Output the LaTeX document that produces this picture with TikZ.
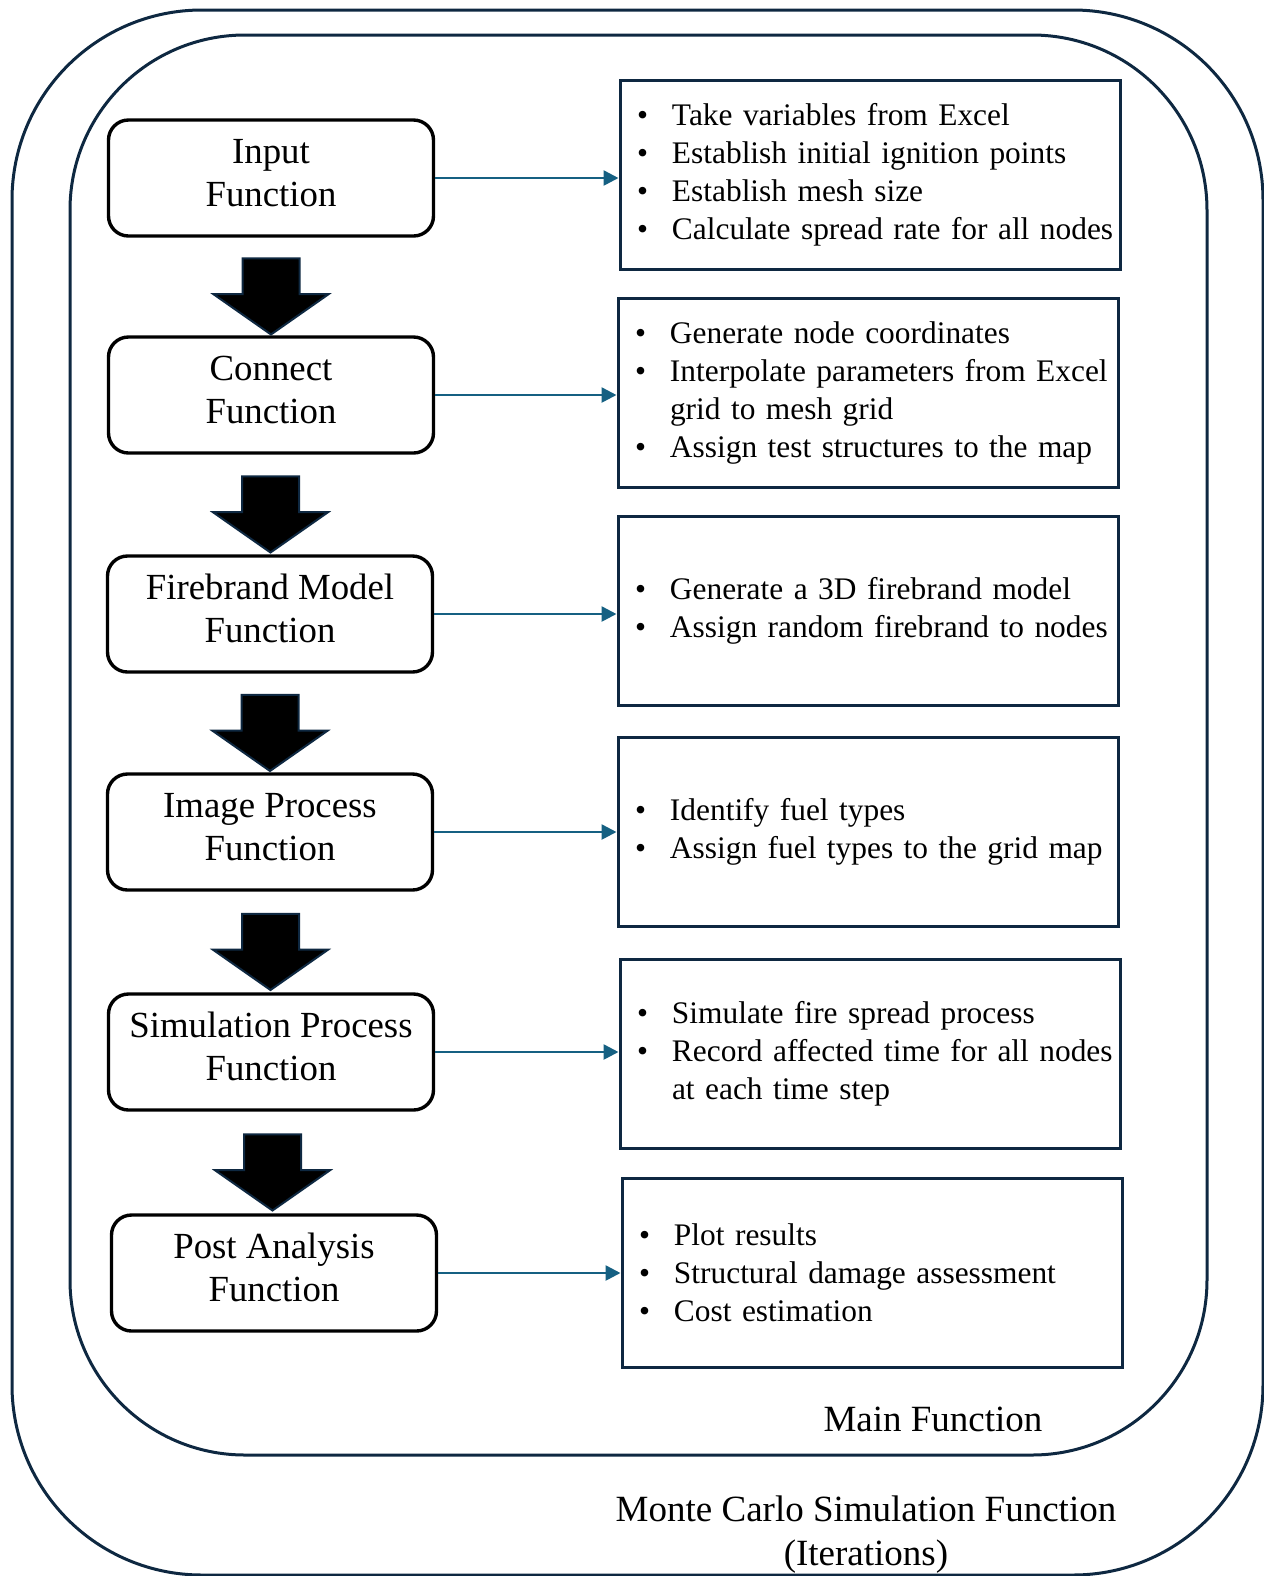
\documentclass[tikz,border=0pt]{standalone}
\usepackage{fontspec}
\setmainfont{Liberation Serif}
\usetikzlibrary{arrows.meta, positioning, shapes.arrows, calc}
\definecolor{cnavy}{HTML}{0E2841}
\definecolor{cblue}{HTML}{156082}
\newcommand{\bul}[1]{\mbox{\makebox[17.5pt][l]{\textbullet}#1}}
\newcommand{\cont}[1]{\mbox{\hspace*{17.5pt}#1}}
\tikzset{
  every picture/.style={x=0.5pt, y=-0.5pt, line width=1.5pt},
  func/.style={draw=black, rounded corners=10pt, line width=1.7pt, minimum width=162.5pt, minimum height=58pt, align=center, text depth=5.5pt, font=\fontsize{18.4}{21.5}\selectfont},
  tasks/.style={draw=cnavy, line width=1.5pt, minimum height=94.5pt, text width=233pt, inner xsep=8.5pt, align=left, font=\fontsize{15.7}{19}\selectfont},
  downarrow/.style={single arrow, draw=cnavy, fill=black, line width=1pt, rotate=-90, minimum height=38pt, inner xsep=0pt, inner ysep=13.75pt, single arrow head extend=14.5pt, single arrow tip angle=110},
  arrow/.style={-{Triangle[length=7.5pt, width=7.5pt]}, draw=cblue, line width=1.3pt},
  outline/.style={draw=cnavy, line width=1.5pt},
  caption/.style={font=\fontsize{18.5}{22}\selectfont, align=center},
}
\begin{document}
\begin{tikzpicture}
  \useasboundingbox (0,0) rectangle (1264,1576);
  % nested loops
  \draw[outline, rounded corners=95pt] (12,10) rectangle (1263,1575);
  \draw[outline, rounded corners=87.5pt] (70,35) rectangle (1207,1455);
  \node[caption] (main) at (933,1419) {Main Function};
  \node[caption] (mc) at (866,1535) {Monte Carlo Simulation Function\\(Iterations)};
  % function chain
  \node[func] (in) at (271,178) {Input\\Function};
  \node[func] (con) at (271,395) {Connect\\Function};
  \node[func] (fb) at (270,614) {Firebrand Model\\Function};
  \node[func] (img) at (270,832) {Image Process\\Function};
  \node[func] (sim) at (271,1052) {Simulation Process\\Function};
  \node[func] (post) at (274,1273) {Post Analysis\\Function};
  \node[downarrow] (a1) at ($(in.south)!0.5!(con.north)$) {};
  \node[downarrow] (a2) at ($(con.south)!0.5!(fb.north)$) {};
  \node[downarrow] (a3) at ($(fb.south)!0.5!(img.north)$) {};
  \node[downarrow] (a4) at ($(img.south)!0.5!(sim.north)$) {};
  \node[downarrow] (a5) at ($(sim.south)!0.5!(post.north)$) {};
  % task lists
  \node[tasks] (t1) at (870,175) {\bul{Take variables from Excel}\\\bul{Establish initial ignition points}\\\bul{Establish mesh size}\\\bul{Calculate spread rate for all nodes}};
  \node[tasks] (t2) at (868,393) {\bul{Generate node coordinates}\\\bul{Interpolate parameters from Excel}\\\cont{grid to mesh grid}\\\bul{Assign test structures to the map}};
  \node[tasks] (t3) at (868,611) {\bul{Generate a 3D firebrand model}\\\bul{Assign random firebrand to nodes}};
  \node[tasks] (t4) at (868,832) {\bul{Identify fuel types}\\\bul{Assign fuel types to the grid map}};
  \node[tasks] (t5) at (870,1054) {\bul{Simulate fire spread process}\\\bul{Record affected time for all nodes}\\\cont{at each time step}};
  \node[tasks] (t6) at (872,1273) {\bul{Plot results}\\\bul{Structural damage assessment}\\\bul{Cost estimation}};
  \draw[arrow] (in.east) -- (in.east -| t1.west);
  \draw[arrow] (con.east) -- (con.east -| t2.west);
  \draw[arrow] (fb.east) -- (fb.east -| t3.west);
  \draw[arrow] (img.east) -- (img.east -| t4.west);
  \draw[arrow] (sim.east) -- (sim.east -| t5.west);
  \draw[arrow] (post.east) -- (post.east -| t6.west);
\end{tikzpicture}
\end{document}
